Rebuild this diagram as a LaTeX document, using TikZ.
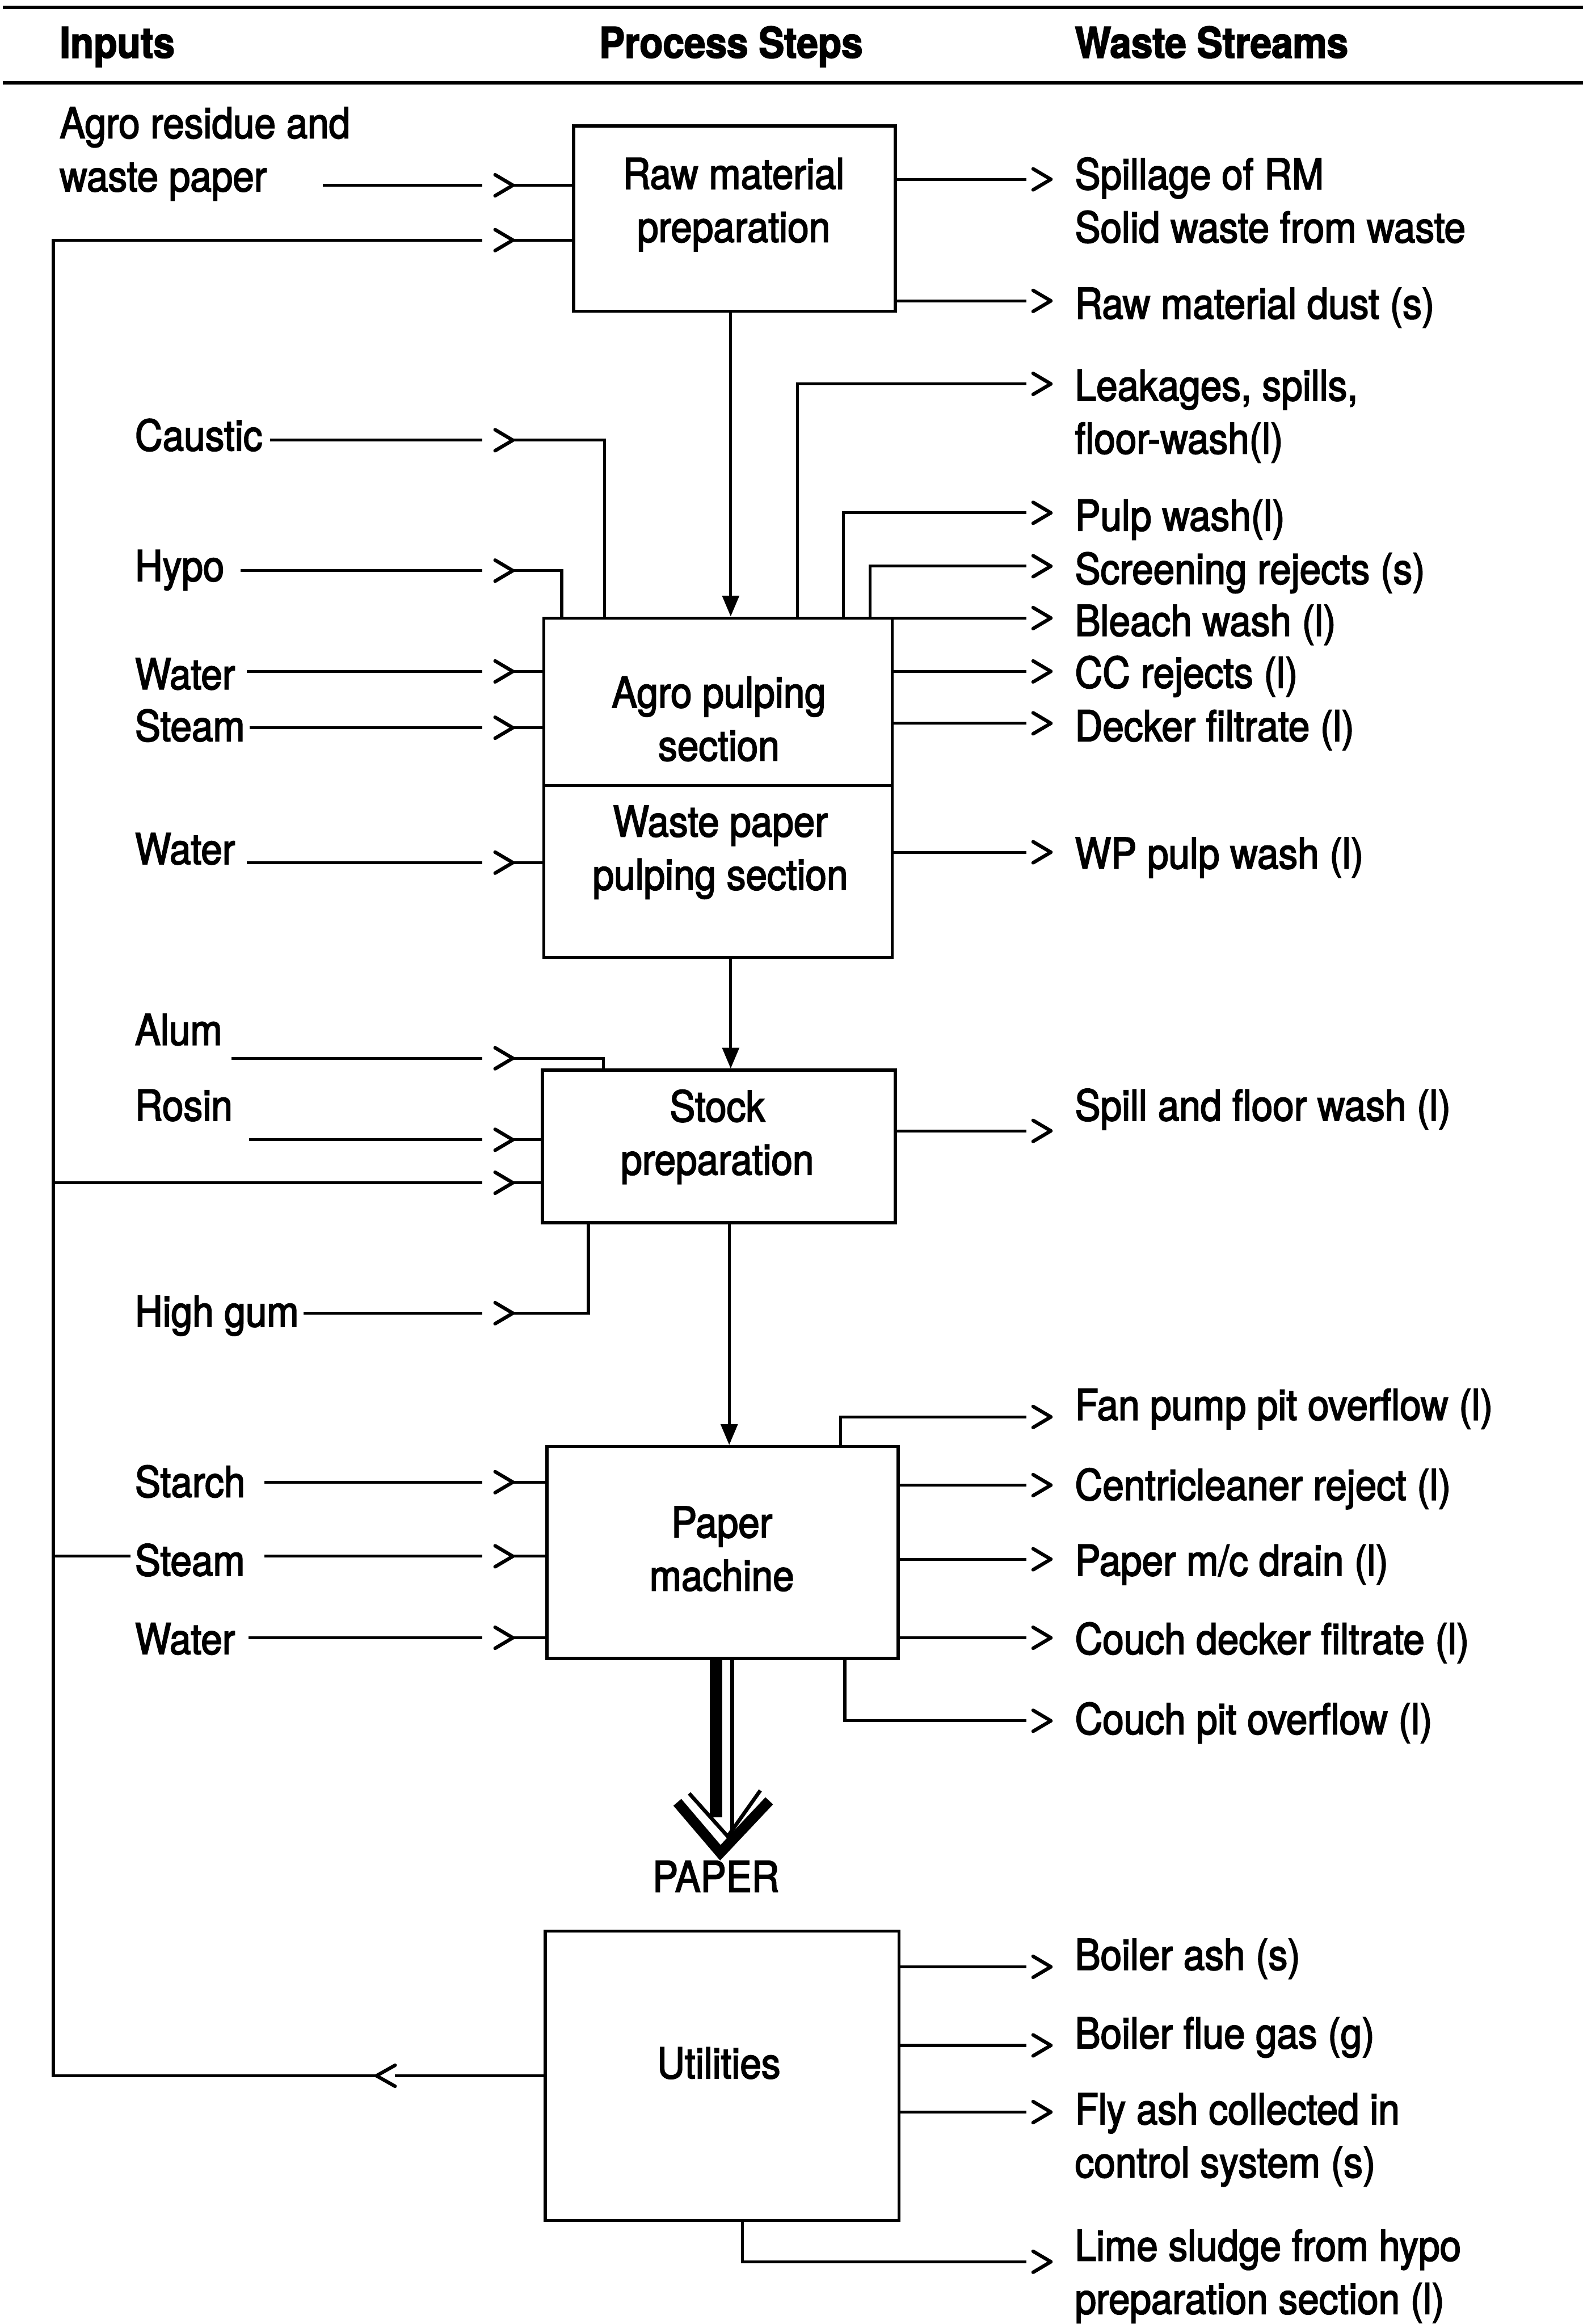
\documentclass[tikz,border=0pt]{standalone}
\usepackage{fontspec}
\setmainfont{TeX Gyre Heros}[FakeStretch=0.9,FakeBold=2.5]
\usetikzlibrary{arrows.meta}

\begin{document}
\begin{tikzpicture}[
  x=0.025cm, y=-0.025cm,
  font=\fontsize{20.4}{25.5}\selectfont,
  every node/.style={inner sep=0pt},
  box/.style={draw, line width=1.5pt},
  boxtext/.style={align=center},
  head/.style={anchor=base west, font=\fontsize{20.4}{25.5}\selectfont\bfseries},
  headrule/.style={line width=1.7pt},
  inlabel/.style={anchor=base west, inner xsep=2pt},
  inlabeltwo/.style={anchor=north west, align=left},
  waste/.style={anchor=base west},
  wastetwo/.style={anchor=north west, align=left},
  flow/.style={line width=1.4pt},
  feed/.style={flow, -{Triangle[length=10pt,width=8pt]}},
  barb/.style={line width=1.7pt, line cap=round},
  chvin/.style={anchor=east, minimum width=0.5cm, minimum height=0.34cm,
    append after command={([xshift=-8.5pt]\tikzlastnode.north east) edge[barb] (\tikzlastnode.east)
      (\tikzlastnode.east) edge[barb] ([xshift=-8.5pt]\tikzlastnode.south east)}},
  chvout/.style={chvin, minimum width=0.4cm},
  chvback/.style={anchor=west, minimum width=0.3cm, minimum height=0.34cm,
    append after command={(\tikzlastnode.north east) edge[barb] (\tikzlastnode.west)
      (\tikzlastnode.west) edge[barb] (\tikzlastnode.south east)}}
]
  \useasboundingbox (0,0) rectangle (1068,1568);

  % header
  \draw[headrule] (2,5) -- (1068,5);
  \node[head] (hin) at (40,39) {Inputs};
  \node[head] (hproc) at (404,39) {Process Steps};
  \node[head] (hwaste) at (725,39) {Waste Streams};
  \draw[headrule] (2,56) -- (1068,56);

  % process steps
  \node[box, minimum width=5.425cm, minimum height=3.125cm] (raw) at (495.5,147.5) {};
  \node[box, minimum width=5.875cm, minimum height=2.825cm] (agro) at (484.5,473.5) {};
  \node[box, minimum width=5.875cm, minimum height=2.9cm] (wpp) at (484.5,588) {};
  \node[box, minimum width=5.95cm, minimum height=2.575cm] (stock) at (485,773.5) {};
  \node[box, minimum width=5.925cm, minimum height=3.575cm] (pm) at (487.5,1047.5) {};
  \node[box, minimum width=5.9625cm, minimum height=4.875cm] (util) at (487.25,1400.5) {};

  \node[boxtext] (rawtext) at (495,138) {Raw material\\preparation};
  \node[boxtext] (agrotext) at (485,485) {Agro pulping\\section};
  \node[boxtext] (wpptext) at (486,575) {Waste paper\\pulping section};
  \node[boxtext] (stocktext) at (484,767) {Stock\\preparation};
  \node[boxtext] (pmtext) at (487,1045) {Paper\\machine};
  \node[boxtext] (utiltext) at (485,1392) {Utilities};

  \draw[feed] (493,0 |- raw.south) -- (493,0 |- agro.north);
  \draw[feed] (493,0 |- wpp.south) -- (493,0 |- stock.north);
  \draw[feed] (492,0 |- stock.south) -- (492,0 |- pm.north);

  % paper out
  \draw[line width=6pt] (483,0 |- pm.south) -- (483,1226);
  \draw[line width=2pt] (494,0 |- pm.south) -- (494,1235);
  \draw[line width=5pt] (457,1216) -- (486,1250) -- (519,1215);
  \draw[line width=1.8pt] (465,1210) -- (491,1239) -- (513,1208);
  \node (paperout) at (483,1266) {PAPER};

  % inputs
  \node[inlabeltwo] (agrores) at (40,72) {Agro residue and\\waste paper};
  \node[inlabel] (caustic) at (88,304) {Caustic};
  \node[inlabel] (hypo) at (88,392) {Hypo};
  \node[inlabel] (water1) at (88,465) {Water};
  \node[inlabel] (steam1) at (88,500) {Steam};
  \node[inlabel] (water2) at (88,583) {Water};
  \node[inlabel] (alum) at (88,705) {Alum};
  \node[inlabel] (rosin) at (88,756) {Rosin};
  \node[inlabel] (highgum) at (88,895) {High gum};
  \node[inlabel] (starch) at (88,1010) {Starch};
  \node[inlabel] (steam2) at (88,1063) {Steam};
  \node[inlabel] (water3) at (88,1116) {Water};

  \coordinate (agin) at (218,125);
  \coordinate (alumin) at (156,714);
  \coordinate (rosinin) at (168,769);
  \coordinate (fb) at (36,0);

  \node[chvin] (ci0) at (346,125) {};
  \node[chvin] (ciR) at (346,162) {};
  \node[chvin] (ci1) at (346,297) {};
  \node[chvin] (ci2) at (346,385) {};
  \node[chvin] (ci3) at (346,453) {};
  \node[chvin] (ci4) at (346,491) {};
  \node[chvin] (ci5) at (346,582) {};
  \node[chvin] (ci6) at (346,714) {};
  \node[chvin] (ci7) at (346,769) {};
  \node[chvin] (ci8) at (346,798) {};
  \node[chvin] (ci9) at (346,886) {};
  \node[chvin] (ci10) at (346,1000) {};
  \node[chvin] (ci11) at (346,1050) {};
  \node[chvin] (ci12) at (346,1105) {};
  \node[chvback] (cu) at (254,0 |- util.west) {};

  \draw[flow] (agin) -- (ci0) -- (raw.west |- ci0);
  \draw[flow] (util) -- (cu) -| (fb |- ciR) -- (ciR) -- (raw.west |- ciR);
  \draw[flow] (ci1 -| caustic.east) ++(2,0) -- (ci1) -| (408,0 |- agro.north);
  \draw[flow] (ci2 -| hypo.east) ++(8,0) -- (ci2) -| (379,0 |- agro.north);
  \draw[flow] (ci3 -| water1.east) ++(5,0) -- (ci3) -- (agro.west |- ci3);
  \draw[flow] (ci4 -| steam1.east) -- (ci4) -- (agro.west |- ci4);
  \draw[flow] (ci5 -| water2.east) ++(5,0) -- (ci5) -- (wpp.west |- ci5);
  \draw[flow] (alumin) -- (ci6) -| (407,0 |- stock.north);
  \draw[flow] (rosinin) -- (ci7) -- (stock.west |- ci7);
  \draw[flow] (fb |- ci8) -- (ci8) -- (stock.west |- ci8);
  \draw[flow] (ci9 -| highgum.east) -- (ci9) -| (397,0 |- stock.south);
  \draw[flow] (ci10 -| starch.east) ++(10,0) -- (ci10) -- (pm.west |- ci10);
  \draw[flow] (fb |- ci11) -- (ci11 -| steam2.west);
  \draw[flow] (ci11 -| steam2.east) ++(10,0) -- (ci11) -- (pm.west |- ci11);
  \draw[flow] (ci12 -| water3.east) ++(6,0) -- (ci12) -- (pm.west |- ci12);

  % waste streams
  \node[wastetwo] (wspill) at (725,106) {Spillage of RM\\Solid waste from waste};
  \node[waste] (wdust) at (725,215) {Raw material dust (s)};
  \node[wastetwo] (wleak) at (725,249) {Leakages, spills,\\floor-wash(l)};
  \node[waste] (wpulp) at (725,358) {Pulp wash(l)};
  \node[waste] (wscreen) at (725,394) {Screening rejects (s)};
  \node[waste] (wbleach) at (725,429) {Bleach wash (l)};
  \node[waste] (wcc) at (725,464) {CC rejects (l)};
  \node[waste] (wdecker) at (725,500) {Decker filtrate (l)};
  \node[waste] (wwp) at (725,586) {WP pulp wash (l)};
  \node[waste] (wfloor) at (725,756) {Spill and floor wash (l)};
  \node[waste] (wfan) at (725,958) {Fan pump pit overflow (l)};
  \node[waste] (wcentri) at (725,1012) {Centricleaner reject (l)};
  \node[waste] (wdrain) at (725,1063) {Paper m/c drain (l)};
  \node[waste] (wcouchd) at (725,1116) {Couch decker filtrate (l)};
  \node[waste] (wcouchp) at (725,1170) {Couch pit overflow (l)};
  \node[waste] (wash) at (725,1329) {Boiler ash (s)};
  \node[waste] (wflue) at (725,1382) {Boiler flue gas (g)};
  \node[wastetwo] (wfly) at (725,1412) {Fly ash collected in\\control system (s)};
  \node[wastetwo] (wlime) at (725,1504) {Lime sludge from hypo\\preparation section (l)};

  \node[chvout] (co1) at (709,121) {};
  \node[chvout] (co2) at (709,203) {};
  \node[chvout] (co3) at (709,259) {};
  \node[chvout] (co4) at (709,346) {};
  \node[chvout] (co5) at (709,382) {};
  \node[chvout] (co6) at (709,417) {};
  \node[chvout] (co7) at (709,453) {};
  \node[chvout] (co8) at (709,488) {};
  \node[chvout] (co9) at (709,575) {};
  \node[chvout] (co10) at (709,763) {};
  \node[chvout] (co11) at (709,956) {};
  \node[chvout] (co12) at (709,1002) {};
  \node[chvout] (co13) at (709,1052) {};
  \node[chvout] (co14) at (709,1105) {};
  \node[chvout] (co15) at (709,1161) {};
  \node[chvout] (co16) at (709,1327) {};
  \node[chvout] (co17) at (709,1380) {};
  \node[chvout] (co18) at (709,1425) {};
  \node[chvout] (co19) at (709,1526) {};

  \draw[flow] (raw.east |- co1) -- (co1);
  \draw[flow] (raw.east |- co2) -- (co2);
  \draw[flow] (538,0 |- agro.north) |- (co3);
  \draw[flow] (569,0 |- agro.north) |- (co4);
  \draw[flow] (587,0 |- agro.north) |- (co5);
  \draw[flow] (agro.east |- co6) -- (co6);
  \draw[flow] (agro.east |- co7) -- (co7);
  \draw[flow] (agro.east |- co8) -- (co8);
  \draw[flow] (wpp.east |- co9) -- (co9);
  \draw[flow] (stock.east |- co10) -- (co10);
  \draw[flow] (567,0 |- pm.north) |- (co11);
  \draw[flow] (pm.east |- co12) -- (co12);
  \draw[flow] (pm.east |- co13) -- (co13);
  \draw[flow] (pm.east |- co14) -- (co14);
  \draw[flow] (570,0 |- pm.south) |- (co15);
  \draw[flow] (util.east |- co16) -- (co16);
  \draw[flow] (util.east |- co17) -- (co17);
  \draw[flow] (util.east |- co18) -- (co18);
  \draw[flow] (501,0 |- util.south) |- (co19);
\end{tikzpicture}
\end{document}
